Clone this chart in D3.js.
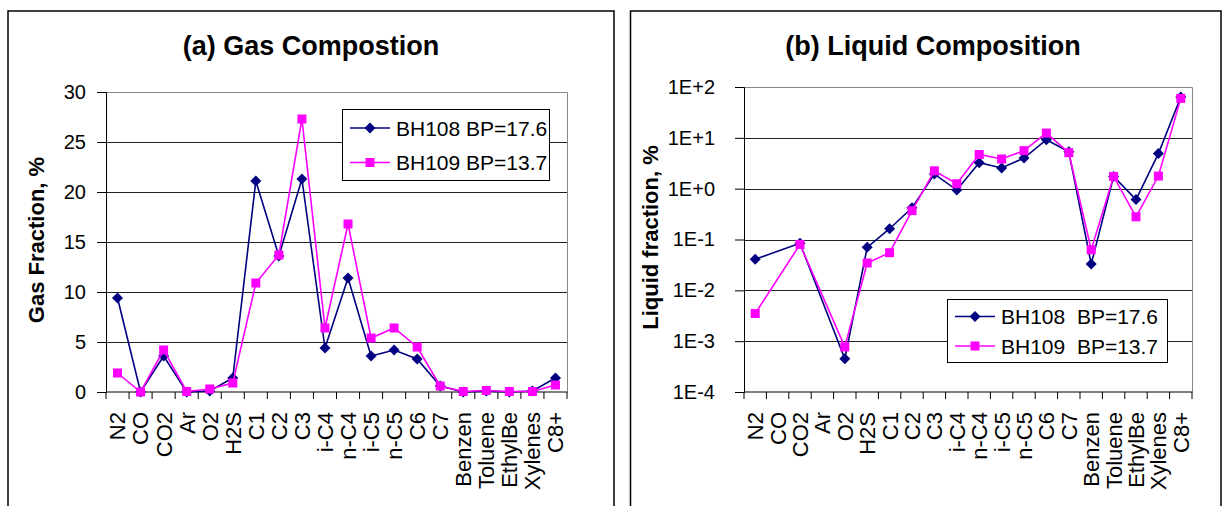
<!DOCTYPE html>
<html>
<head>
<meta charset="utf-8">
<script src="https://cdn.jsdelivr.net/npm/d3@7"></script>
<style>
  body { margin: 0; background: #fff; }
  text { font-family: Arial, "Liberation Sans", sans-serif; fill: #000; }
</style>
</head>
<body>
<script>
const categories = ['N2', 'CO', 'CO2', 'Ar', 'O2', 'H2S', 'C1', 'C2', 'C3', 'i-C4', 'n-C4',
    'i-C5', 'n-C5', 'C6', 'C7', 'Benzen', 'Toluene', 'EthylBe', 'Xylenes', 'C8+'];

// gas fraction, %
const gasBH108 = [9.4, 0, 3.6, 0, 0.1, 1.4, 21.1, 13.6, 21.3, 4.4, 11.4, 3.6, 4.2, 3.3, 0.6, 0, 0.1, 0, 0.1, 1.4];
const gasBH109 = [1.9, 0, 4.2, 0.05, 0.3, 0.9, 10.9, 13.7, 27.3, 6.4, 16.8, 5.4, 6.4, 4.5, 0.6, 0.05, 0.15, 0.05, 0.05, 0.7];

// liquid fraction, % (CO and Ar not reported)
const liqBH108 = [0.041, null, 0.084, null, 0.00045, 0.070, 0.163, 0.42, 1.94, 0.94, 3.24, 2.55, 4.0, 9.2, 5.3, 0.033, 1.74, 0.61, 4.9, 63.6];
const liqBH109 = [0.0035, null, 0.080, null, 0.00077, 0.0345, 0.055, 0.37, 2.25, 1.25, 4.7, 3.83, 5.6, 12.4, 5.1, 0.063, 1.74, 0.28, 1.77, 59.7];

const gasTicks = [0, 5, 10, 15, 20, 25, 30];
const liqTicks = [1e-4, 1e-3, 1e-2, 1e-1, 1e0, 1e1, 1e2];
const legendGas = ['BH108 BP=17.6', 'BH109 BP=13.7'];
const legendLiq = ['BH108  BP=17.6', 'BH109  BP=13.7'];

const width = 1226;
const height = 506;
const navy = '#000080';
const magenta = '#ff00ff';

const svg = d3.select('body')
    .append('svg')
    .attr('width', width)
    .attr('height', height);

const diamond = 'M0,-5.5L5.5,0L0,5.5L-5.5,0Z';
const square = 'M-4.5,-4.5H4.5V4.5H-4.5Z';

function drawPanel(p) {
    const g = svg.append('g');

    // outer frame, open at the bottom
    g.append('path')
        .attr('d', `M${p.frame[0]},${height} V11 H${p.frame[1]} V${height}`)
        .attr('fill', 'none')
        .attr('stroke', '#000')
        .attr('stroke-width', 1.5);

    g.append('text')
        .attr('x', p.titleX)
        .attr('y', 55)
        .attr('text-anchor', 'middle')
        .style('font-size', '27px')
        .style('font-weight', 'bold')
        .text(p.title);

    const x = d3.scaleBand().domain(categories).range([p.left, p.right]);
    const y = p.y;

    // gridlines
    g.append('g')
        .selectAll('line')
        .data(p.ticks.slice(1, -1))
        .enter()
        .append('line')
            .attr('x1', p.left)
            .attr('x2', p.right)
            .attr('y1', d => Math.round(y(d)) + 0.5)
            .attr('y2', d => Math.round(y(d)) + 0.5)
            .attr('stroke', '#222');

    // plot area top/right edge
    g.append('path')
        .attr('d', `M${p.left},${Math.round(y(p.ticks[p.ticks.length - 1])) + 0.5} H${p.right + 0.5} V${p.bottom}`)
        .attr('fill', 'none')
        .attr('stroke', '#888');

    const yAxis = g.append('g')
        .attr('transform', `translate(${p.left},0)`)
        .call(d3.axisLeft(y).tickValues(p.ticks).tickSize(9).tickPadding(p.pad).tickFormat(p.fmt));
    yAxis.select('.domain').attr('stroke', '#000');
    yAxis.selectAll('text').style('font-size', '20px').attr('font-family', null);

    // x axis line + boundary ticks
    g.append('line')
        .attr('x1', p.left).attr('x2', p.right + 0.5)
        .attr('y1', p.bottom).attr('y2', p.bottom)
        .attr('stroke', '#000');
    g.append('g')
        .selectAll('line')
        .data(categories.concat(['_end']))
        .enter()
        .append('line')
            .attr('x1', d => d === '_end' ? p.right : x(d))
            .attr('x2', d => d === '_end' ? p.right : x(d))
            .attr('y1', p.bottom)
            .attr('y2', p.bottom + 7)
            .attr('stroke', '#000');

    g.append('g')
        .selectAll('text')
        .data(categories)
        .enter()
        .append('text')
            .attr('transform', d => `translate(${x(d) + x.bandwidth() / 2},${p.bottom + 20}) rotate(-90)`)
            .attr('dy', '0.36em')
            .attr('text-anchor', 'end')
            .style('font-size', '22px')
            .text(d => d);

    g.append('text')
        .attr('transform', `translate(${p.yTitleX},${(p.top + p.bottom) / 2 - 2}) rotate(-90)`)
        .attr('text-anchor', 'middle')
        .style('font-size', '22px')
        .style('font-weight', 'bold')
        .text(p.yTitle);

    const cx = i => x(categories[i]) + x.bandwidth() / 2;
    const line = d3.line()
        .defined(d => d.v !== null)
        .x(d => cx(d.i))
        .y(d => y(d.v));

    p.series.forEach(s => {
        const pts = s.values.map((v, i) => ({ v, i })).filter(d => d.v !== null);
        g.append('path')
            .datum(pts)
            .attr('d', line)
            .attr('fill', 'none')
            .attr('stroke', s.color)
            .attr('stroke-width', 1.6);
        g.append('g')
            .selectAll('path')
            .data(pts)
            .enter()
            .append('path')
                .attr('d', s.marker)
                .attr('transform', d => `translate(${cx(d.i)},${y(d.v)})`)
                .attr('fill', s.color);
    });

    // legend
    const lg = g.append('g').attr('transform', `translate(${p.legend.x},${p.legend.y})`);
    lg.append('rect')
        .attr('x', 0.5).attr('y', 0.5)
        .attr('width', p.legend.w).attr('height', p.legend.h)
        .attr('fill', '#fff')
        .attr('stroke', '#000');
    p.series.forEach((s, i) => {
        const ry = p.legend.row0 + i * p.legend.step;
        lg.append('line')
            .attr('x1', 8).attr('x2', 48)
            .attr('y1', ry).attr('y2', ry)
            .attr('stroke', s.color)
            .attr('stroke-width', 1.6);
        lg.append('path')
            .attr('d', s.marker)
            .attr('transform', `translate(28,${ry})`)
            .attr('fill', s.color);
        lg.append('text')
            .attr('x', 54)
            .attr('y', ry)
            .attr('dy', '0.36em')
            .style('font-size', '21px')
            .style('white-space', 'pre')
            .text(p.legendText[i]);
    });
}

drawPanel({
    frame: [8, 614],
    title: '(a) Gas Compostion',
    titleX: 311,
    left: 106, right: 567, top: 92, bottom: 392,
    y: d3.scaleLinear().domain([0, 30]).range([392, 92]),
    ticks: gasTicks,
    fmt: d3.format('d'),
    pad: 11,
    yTitle: 'Gas Fraction, %',
    yTitleX: 44,
    series: [
        { values: gasBH108, color: navy, marker: diamond },
        { values: gasBH109, color: magenta, marker: square }
    ],
    legend: { x: 342, y: 109, w: 207, h: 71, row0: 19, step: 34.5 },
    legendText: legendGas
});

drawPanel({
    frame: [630.5, 1221],
    title: '(b) Liquid Composition',
    titleX: 933,
    left: 744, right: 1192, top: 87, bottom: 392,
    y: d3.scaleLog().domain([1e-4, 1e2]).range([392, 87]),
    ticks: liqTicks,
    fmt: d => {
        const e = Math.round(Math.log10(d));
        return '1E' + (e < 0 ? '-' : '+') + Math.abs(e);
    },
    pad: 20,
    yTitle: 'Liquid fraction, %',
    yTitleX: 658,
    series: [
        { values: liqBH108, color: navy, marker: diamond },
        { values: liqBH109, color: magenta, marker: square }
    ],
    legend: { x: 947, y: 299, w: 220, h: 63, row0: 17.5, step: 29.5 },
    legendText: legendLiq
});
</script>
</body>
</html>
